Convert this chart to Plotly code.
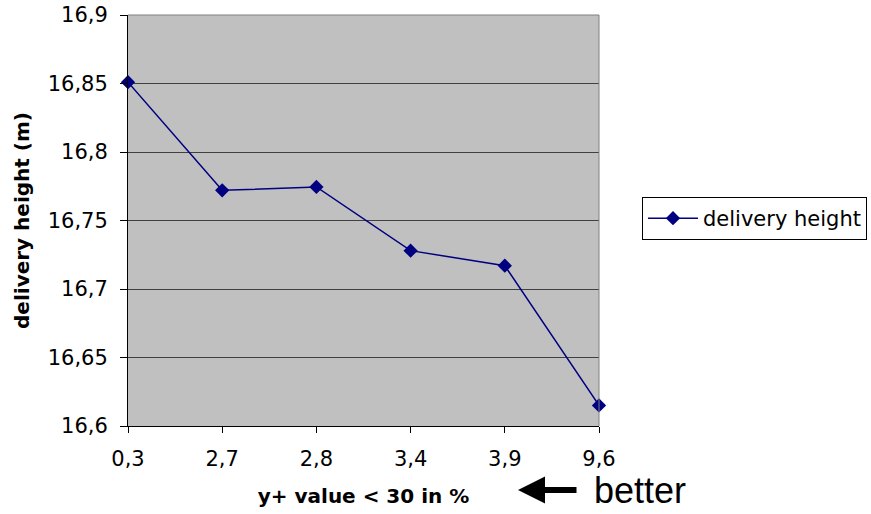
import plotly.graph_objects as go

categories = ["0,3", "2,7", "2,8", "3,4", "3,9", "9,6"]
delivery_height = [16.851, 16.772, 16.7745, 16.728, 16.717, 16.615]
y_ticks = [16.6, 16.65, 16.7, 16.75, 16.8, 16.85, 16.9]
y_tick_labels = ["16,6", "16,65", "16,7", "16,75", "16,8", "16,85", "16,9"]

x_idx = list(range(len(categories)))

L, R, T, B = 128, 272, 15, 88
PW = 871 - L - R
PH = 514 - T - B
FONT = "DejaVu Sans, Arial, sans-serif"

fig = go.Figure()
fig.add_trace(go.Scatter(
    x=x_idx, y=delivery_height, mode="lines+markers", name="delivery height",
    line=dict(color="#000080", width=1.5),
    marker=dict(symbol="diamond", size=11, color="#000080"),
    cliponaxis=False,
))

fig.update_layout(
    width=871, height=514,
    margin=dict(l=L, r=R, t=T, b=B, autoexpand=False),
    paper_bgcolor="white", plot_bgcolor="#C0C0C0",
    font=dict(family=FONT, color="black"),
    showlegend=True,
    legend=dict(
        x=(642 - L) / PW, y=(514 - B - 197) / PH, xanchor="left", yanchor="top",
        bgcolor="white", bordercolor="black", borderwidth=1,
        font=dict(size=21, family=FONT), itemwidth=50,
    ),
    xaxis=dict(
        range=[0, 5], tickmode="array", tickvals=x_idx, ticktext=categories,
        ticks="outside", ticklen=6, tickcolor="black", showgrid=False,
        showline=True, linecolor="black", linewidth=1, zeroline=False,
        tickfont=dict(size=21), ticklabelstandoff=8, automargin=False,
        title=dict(text="<b>y+ value < 30 in %</b>", font=dict(size=20), standoff=18),
    ),
    yaxis=dict(
        range=[16.6, 16.9], tickmode="array", tickvals=y_ticks, ticktext=y_tick_labels,
        ticks="outside", ticklen=7, tickcolor="black",
        showgrid=True, gridcolor="#404040", gridwidth=1,
        showline=True, linecolor="black", linewidth=1, zeroline=False,
        tickfont=dict(size=21), ticklabelstandoff=8, automargin=False,
        title=dict(text="<b>delivery height (m)</b>", font=dict(size=20), standoff=12),
    ),
)

# plot-area right and top border in gray
fig.add_shape(type="line", xref="paper", yref="paper", x0=1, x1=1, y0=0, y1=1,
              line=dict(color="#808080", width=1))
fig.add_shape(type="line", xref="paper", yref="paper", x0=0, x1=1, y0=1, y1=1,
              line=dict(color="#808080", width=1))

# "better" arrow annotation
fig.add_annotation(
    xref="paper", yref="paper",
    x=(518 - L) / PW, y=-(490 - 426) / PH,
    ax=60, ay=0, axref="pixel", ayref="pixel",
    showarrow=True, arrowhead=2, arrowsize=0.9, arrowwidth=6, arrowcolor="black", text="",
)
fig.add_annotation(
    xref="paper", yref="paper",
    x=(592 - L) / PW, y=-(491 - 426) / PH,
    text="better", showarrow=False, xanchor="left", yanchor="middle",
    font=dict(size=36, family="Liberation Sans, Arial, sans-serif", color="black"),
)

fig.write_html("out.html")
